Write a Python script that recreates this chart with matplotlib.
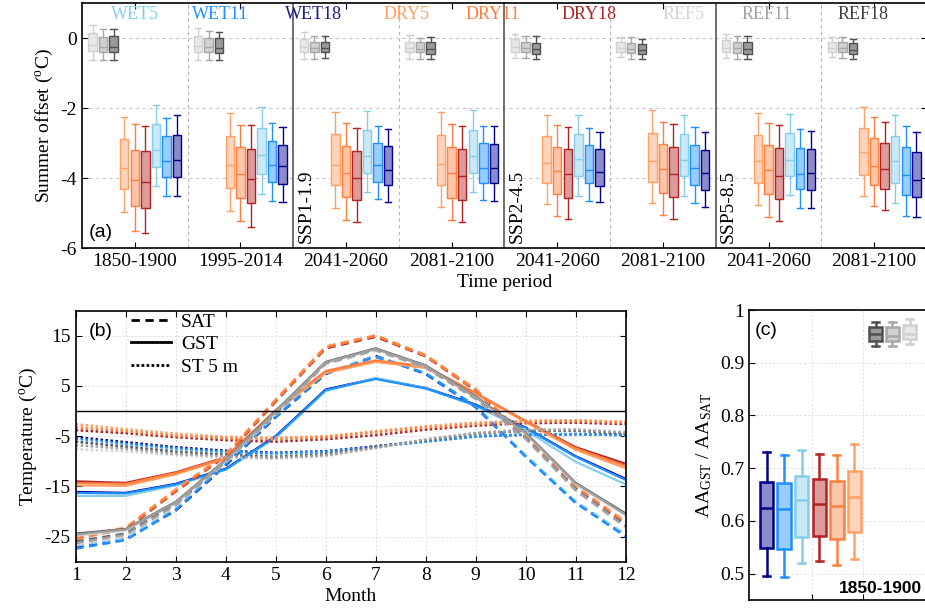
import matplotlib
matplotlib.use("Agg")
import matplotlib.pyplot as plt
from matplotlib.colors import to_rgb
from matplotlib.lines import Line2D

plt.rcParams["font.family"] = ["Liberation Serif", "DejaVu Serif"]
plt.rcParams["mathtext.fontset"] = "custom"
plt.rcParams["mathtext.rm"] = "Liberation Serif"
plt.rcParams["mathtext.it"] = "Liberation Serif:italic"
plt.rcParams["axes.unicode_minus"] = False
plt.rcParams["font.size"] = 14

# ---------------- data ----------------
runs = ["WET5", "WET11", "WET18", "DRY5", "DRY11", "DRY18", "REF5", "REF11", "REF18"]
periods = ["1850-1900", "1995-2014", "2041-2060", "2081-2100",
           "2041-2060", "2081-2100", "2041-2060", "2081-2100"]
scenarios = ["SSP1-1.9", "SSP2-4.5", "SSP5-8.5"]
months = list(range(1, 13))

# (a) summer offset (degC): (whislo, q1, median, q3, whishi) for each period
off_ref5 = [(-0.62, -0.38, -0.21, 0.14, 0.38), (-0.62, -0.40, -0.24, 0.07, 0.29),
            (-0.59, -0.40, -0.26, -0.03, 0.17), (-0.59, -0.40, -0.29, -0.10, 0.08),
            (-0.57, -0.40, -0.27, -0.03, 0.12), (-0.54, -0.40, -0.29, -0.12, 0.03),
            (-0.57, -0.40, -0.29, -0.07, 0.11), (-0.54, -0.40, -0.29, -0.12, 0.02)]
off_ref11 = [(-0.62, -0.41, -0.26, 0.03, 0.26), (-0.62, -0.41, -0.26, 0.00, 0.19),
             (-0.59, -0.41, -0.29, -0.11, 0.07), (-0.59, -0.41, -0.30, -0.12, 0.00),
             (-0.57, -0.41, -0.29, -0.12, 0.07), (-0.59, -0.43, -0.30, -0.14, 0.02),
             (-0.59, -0.43, -0.29, -0.11, 0.07), (-0.57, -0.41, -0.29, -0.12, 0.02)]
off_ref18 = [(-0.62, -0.41, -0.26, 0.05, 0.26), (-0.62, -0.43, -0.29, 0.00, 0.17),
             (-0.57, -0.41, -0.29, -0.10, 0.07), (-0.59, -0.45, -0.31, -0.12, 0.02),
             (-0.60, -0.45, -0.30, -0.14, 0.05), (-0.59, -0.46, -0.33, -0.16, -0.02),
             (-0.60, -0.46, -0.31, -0.10, 0.07), (-0.60, -0.46, -0.33, -0.14, -0.02)]
off_dry5 = [(-4.97, -4.31, -3.71, -2.89, -2.26), (-4.95, -4.29, -3.64, -2.79, -2.14),
            (-4.86, -4.20, -3.64, -2.75, -2.11), (-4.83, -4.19, -3.60, -2.76, -2.11),
            (-4.74, -4.14, -3.57, -2.80, -2.19), (-4.72, -4.10, -3.51, -2.70, -2.07),
            (-4.76, -4.14, -3.52, -2.76, -2.15), (-4.51, -3.90, -3.27, -2.56, -1.97)]
off_dry11 = [(-5.50, -4.79, -4.07, -3.19, -2.47), (-5.24, -4.57, -3.88, -3.11, -2.48),
             (-5.19, -4.54, -3.85, -3.08, -2.42), (-5.21, -4.57, -3.87, -3.11, -2.47),
             (-5.08, -4.46, -3.81, -3.10, -2.49), (-5.05, -4.43, -3.74, -3.03, -2.41),
             (-5.10, -4.46, -3.77, -3.06, -2.44), (-4.81, -4.20, -3.66, -2.86, -2.25)]
off_dry18 = [(-5.57, -4.86, -4.11, -3.24, -2.50), (-5.41, -4.71, -4.03, -3.17, -2.48),
             (-5.27, -4.64, -4.00, -3.24, -2.58), (-5.27, -4.62, -3.93, -3.16, -2.52),
             (-5.17, -4.56, -3.88, -3.17, -2.54), (-5.18, -4.54, -3.89, -3.11, -2.47),
             (-5.24, -4.59, -3.93, -3.13, -2.48), (-4.91, -4.31, -3.74, -3.00, -2.40)]
off_wet5 = [(-4.24, -3.69, -3.19, -2.46, -1.91), (-4.45, -3.88, -3.33, -2.56, -1.98),
            (-4.40, -3.86, -3.38, -2.64, -2.09), (-4.41, -3.86, -3.36, -2.62, -2.06),
            (-4.50, -3.93, -3.46, -2.74, -2.20), (-4.50, -3.95, -3.48, -2.74, -2.21),
            (-4.49, -3.94, -3.48, -2.71, -2.18), (-4.72, -4.13, -3.52, -2.79, -2.19)]
off_wet11 = [(-4.50, -3.98, -3.50, -2.81, -2.29), (-4.65, -4.12, -3.62, -2.94, -2.43),
             (-4.60, -4.10, -3.63, -3.00, -2.50), (-4.64, -4.13, -3.70, -3.00, -2.50),
             (-4.65, -4.15, -3.76, -3.06, -2.57), (-4.70, -4.19, -3.72, -3.07, -2.55),
             (-4.85, -4.31, -3.88, -3.14, -2.60), (-5.08, -4.48, -3.90, -3.11, -2.52)]
off_wet18 = [(-4.52, -3.98, -3.48, -2.76, -2.20), (-4.68, -4.17, -3.67, -3.05, -2.53),
             (-4.68, -4.19, -3.78, -3.09, -2.60), (-4.66, -4.15, -3.71, -3.03, -2.52),
             (-4.69, -4.22, -3.82, -3.16, -2.69), (-4.84, -4.34, -3.86, -3.19, -2.68),
             (-4.85, -4.34, -3.86, -3.18, -2.67), (-5.11, -4.54, -4.05, -3.27, -2.69)]

# (b) monthly temperature (degC)
wet5_sat = [-26.8, -25.3, -19.4, -10.4, -1.0, 7.6, 10.9, 7.6, 1.0, -8.8, -18.0, -24.6]
wet11_sat = [-27.4, -25.7, -19.7, -10.6, -1.1, 7.5, 10.8, 7.5, 0.9, -9.1, -18.3, -25.0]
wet18_sat = [-27.1, -25.5, -19.8, -10.8, -1.2, 7.4, 11.0, 7.4, 0.8, -9.0, -18.2, -24.8]
dry5_sat = [-25.0, -23.2, -15.6, -8.6, 2.3, 12.9, 15.1, 11.2, 4.4, -5.0, -15.0, -22.0]
dry11_sat = [-25.5, -23.4, -15.8, -8.8, 2.1, 12.7, 15.0, 11.0, 4.2, -5.2, -15.2, -22.3]
dry18_sat = [-25.2, -23.6, -16.0, -9.0, 1.9, 12.5, 14.8, 10.9, 4.1, -5.3, -15.3, -22.5]
ref5_sat = [-26.6, -24.9, -18.9, -10.2, -0.7, 9.3, 12.0, 8.6, 2.4, -5.6, -15.9, -23.2]
ref11_sat = [-26.3, -24.6, -18.7, -10.1, -0.6, 9.5, 12.2, 8.7, 2.5, -5.4, -15.7, -23.0]
ref18_sat = [-26.0, -24.4, -18.5, -10.0, -0.5, 9.6, 12.3, 8.8, 2.6, -5.3, -15.6, -22.8]

wet5_gst = [-16.9, -16.9, -14.8, -11.7, -5.3, 4.0, 6.6, 4.6, 1.0, -3.8, -10.1, -14.6]
wet11_gst = [-16.3, -16.4, -14.6, -11.6, -5.1, 4.2, 6.4, 4.5, 1.2, -3.4, -9.1, -13.7]
wet18_gst = [-16.1, -16.3, -14.5, -11.5, -5.0, 4.3, 6.5, 4.6, 1.3, -3.3, -9.0, -13.5]
dry5_gst = [-14.8, -14.9, -12.6, -9.5, -0.1, 7.6, 9.8, 8.6, 3.4, -2.2, -7.7, -11.4]
dry11_gst = [-14.3, -14.5, -12.3, -9.3, 0.2, 8.0, 10.1, 8.9, 3.6, -2.0, -7.4, -10.9]
dry18_gst = [-14.0, -14.3, -12.2, -9.2, 0.0, 7.8, 9.9, 8.7, 3.5, -2.0, -7.2, -10.5]
ref5_gst = [-24.8, -23.8, -18.4, -9.9, -0.2, 9.6, 12.3, 8.9, 2.7, -4.5, -14.6, -20.8]
ref11_gst = [-24.6, -23.6, -18.2, -9.8, -0.1, 9.7, 12.4, 9.0, 2.8, -4.4, -14.4, -20.6]
ref18_gst = [-24.4, -23.5, -18.1, -9.7, 0.0, 9.8, 12.5, 9.1, 2.9, -4.3, -14.3, -20.4]

wet5_st = [-6.1, -7.0, -7.8, -8.4, -8.6, -8.2, -7.2, -6.0, -5.0, -4.6, -4.5, -4.9]
wet11_st = [-5.5, -6.5, -7.4, -8.1, -8.4, -8.1, -7.1, -6.1, -5.1, -4.7, -4.6, -4.8]
wet18_st = [-5.2, -6.2, -7.2, -7.9, -8.3, -8.0, -7.0, -6.0, -5.0, -4.7, -4.6, -4.7]
dry5_st = [-2.6, -3.6, -4.5, -5.1, -5.3, -5.0, -4.0, -3.0, -2.3, -1.9, -1.8, -2.1]
dry11_st = [-3.2, -4.0, -4.9, -5.4, -5.6, -5.2, -4.2, -3.3, -2.6, -2.1, -2.0, -2.3]
dry18_st = [-3.8, -4.4, -5.2, -5.8, -6.1, -5.6, -4.8, -3.7, -2.9, -2.4, -2.3, -2.6]
ref5_st = [-7.6, -8.0, -8.8, -9.3, -9.5, -9.0, -7.4, -5.6, -4.3, -3.6, -3.6, -4.1]
ref11_st = [-6.8, -7.5, -8.5, -9.0, -9.3, -8.8, -7.3, -5.7, -4.4, -3.8, -3.7, -4.3]
ref18_st = [-6.1, -7.1, -8.1, -8.7, -9.1, -8.6, -7.1, -5.8, -4.5, -3.9, -3.9, -4.5]

# (c) AA_GST / AA_SAT, 1850-1900: (whislo, q1, median, q3, whishi)
aa_wet18 = (0.496, 0.549, 0.624, 0.674, 0.730)
aa_wet11 = (0.494, 0.547, 0.622, 0.671, 0.725)
aa_wet5 = (0.521, 0.570, 0.640, 0.685, 0.735)
aa_dry18 = (0.524, 0.571, 0.633, 0.680, 0.727)
aa_dry11 = (0.517, 0.566, 0.628, 0.676, 0.725)
aa_dry5 = (0.528, 0.579, 0.645, 0.694, 0.746)
aa_ref18 = (0.932, 0.942, 0.955, 0.968, 0.978)
aa_ref11 = (0.932, 0.942, 0.950, 0.967, 0.977)
aa_ref5 = (0.936, 0.945, 0.955, 0.972, 0.983)

# ---------------- styles ----------------
edge = {"WET5": "#87CEEB", "WET11": "#1E90FF", "WET18": "#00008B",
        "DRY5": "#FFA066", "DRY11": "#FF7F3F", "DRY18": "#B22222",
        "REF5": "#D0D0D0", "REF11": "#A8A8A8", "REF18": "#505050"}
label_col = dict(edge, WET18="#1C1C8C", REF5="#D3D3D3", REF11="#A0A0A0", REF18="#404040")


def face(c, a=0.45):
    r, g, b = to_rgb(c)
    return (1 - a * (1 - r), 1 - a * (1 - g), 1 - a * (1 - b))


face_col = {k: face(v) for k, v in edge.items()}
face_col["REF5"] = "#E8E8E8"
face_col["REF11"] = "#D0D0D0"
face_col["REF18"] = "#9A9A9A"


def draw_boxes(ax, stats, pos, run, width, lw, capw):
    bs = [dict(whislo=s[0], q1=s[1], med=s[2], q3=s[3], whishi=s[4], fliers=[]) for s in stats]
    c = edge[run]
    ax.bxp(bs, positions=pos, widths=width, capwidths=capw, patch_artist=True,
           showfliers=False, manage_ticks=False,
           boxprops=dict(facecolor=face_col[run], edgecolor=c, linewidth=lw),
           whiskerprops=dict(color=c, linewidth=lw), capprops=dict(color=c, linewidth=lw),
           medianprops=dict(color=c, linewidth=lw))


fig = plt.figure(figsize=(9.25, 6.15), dpi=100)

# ---------------- panel (a) ----------------
axa = fig.add_axes([0.0886, 0.5967, 0.9135, 0.3984])
xa = list(range(1, len(periods) + 1))
off_a = {"REF5": -0.4, "REF11": -0.3, "REF18": -0.2, "DRY5": -0.1, "DRY11": 0.0,
         "DRY18": 0.1, "WET5": 0.2, "WET11": 0.3, "WET18": 0.4}
stats_a = {"REF5": off_ref5, "REF11": off_ref11, "REF18": off_ref18,
           "DRY5": off_dry5, "DRY11": off_dry11, "DRY18": off_dry18,
           "WET5": off_wet5, "WET11": off_wet11, "WET18": off_wet18}
for run, st in stats_a.items():
    draw_boxes(axa, st, [x + off_a[run] for x in xa], run, 0.08, 1.0, 0.06)

for y in [0, -2, -4]:
    axa.axhline(y, color="#C8C8C8", lw=0.8, ls=(0, (3, 3)), zorder=0)
for x in [1.5, 3.5, 5.5, 7.5]:
    axa.axvline(x, color="#B4B4B4", lw=0.8, ls=(0, (3, 3)), zorder=0)
for x in [2.5, 4.5, 6.5]:
    axa.axvline(x, color="#555555", lw=1.2, zorder=0)

axa.set_xlim(0.5, 8.5)
axa.set_ylim(-6, 1)
axa.set_xticks(xa)
axa.set_xticklabels(periods)
axa.set_yticks([0, -2, -4, -6])
axa.set_yticklabels(["0", "-2", "-4", "-6"])
axa.tick_params(direction="in", top=True, right=True, length=4)
axa.set_xlabel("Time period", labelpad=3)
axa.set_ylabel(r"Summer offset ($^{\rm o}$C)")

lab_x = [135, 220, 314, 407, 493, 589, 684, 767, 863]
for run, px in zip(runs, lab_x):
    axa.text((px - 82) / 845, 0.955, run, color=label_col[run], ha="center", va="center",
             transform=axa.transAxes, fontsize=13)
for sx, s in zip([2.5, 4.5, 6.5], scenarios):
    axa.text(sx + 0.04, -5.85, s, rotation=90, ha="left", va="bottom", fontsize=14)
axa.text(0.008, 0.03, "(a)", transform=axa.transAxes, family="Liberation Sans",
         fontsize=14, ha="left", va="bottom")

# ---------------- panel (b) ----------------
axb = fig.add_axes([0.0818, 0.0867, 0.5946, 0.4081])
series_b = [
    ("WET18", wet18_st, wet18_sat, wet18_gst), ("WET5", wet5_st, wet5_sat, wet5_gst),
    ("WET11", wet11_st, wet11_sat, wet11_gst), ("DRY18", dry18_st, dry18_sat, dry18_gst),
    ("DRY5", dry5_st, dry5_sat, dry5_gst), ("DRY11", dry11_st, dry11_sat, dry11_gst),
    ("REF5", ref5_st, ref5_sat, ref5_gst), ("REF18", ref18_st, ref18_sat, ref18_gst),
    ("REF11", ref11_st, ref11_sat, ref11_gst)]
line_col = dict(edge, REF5="#D3D3D3", REF11="#A0A0A0", REF18="#5A5A5A")
for run, st, sat, gst in series_b:
    c = line_col[run]
    axb.plot(months, st, color=c, lw=1.8, ls=(0, (1, 1)))
    axb.plot(months, sat, color=c, lw=1.8, ls=(0, (3.2, 2.2)))
    axb.plot(months, gst, color=c, lw=1.6)
axb.axhline(0, color="black", lw=1.0)
axb.set_xlim(1, 12)
axb.set_ylim(-30, 20)
axb.set_xticks(months)
axb.set_yticks([15, 5, -5, -15, -25])
axb.set_yticklabels(["15", "5", "-5", "-15", "-25"])
axb.grid(True, color="#DDDDDD", lw=0.7, ls=(0, (2, 2)))
axb.set_axisbelow(True)
axb.tick_params(direction="in", top=True, right=True, length=4)
axb.set_xlabel("Month", labelpad=3)
axb.set_ylabel(r"Temperature ($^{\rm o}$C)")
handles = [Line2D([], [], color="black", lw=2, ls=(0, (3, 2))),
           Line2D([], [], color="black", lw=2),
           Line2D([], [], color="black", lw=2, ls=(0, (1, 0.8)))]
axb.legend(handles, ["SAT", "GST", "ST 5 m"], loc="upper left", frameon=False,
           bbox_to_anchor=(0.1, 0.99), borderpad=0, borderaxespad=0, handlelength=2.1,
           handletextpad=0.5, labelspacing=0.25, fontsize=14)
axb.text(0.024, 0.95, "(b)", transform=axb.transAxes, family="Liberation Sans",
         fontsize=14, ha="left", va="top")

# ---------------- panel (c) ----------------
axc = fig.add_axes([0.8097, 0.0244, 0.1957, 0.4715])
stats_c = [("WET18", aa_wet18, 1), ("WET11", aa_wet11, 2), ("WET5", aa_wet5, 3),
           ("DRY18", aa_dry18, 4), ("DRY11", aa_dry11, 5), ("DRY5", aa_dry5, 6),
           ("REF18", aa_ref18, 7.2), ("REF11", aa_ref11, 8.15), ("REF5", aa_ref5, 9.15)]
for run, st, p in stats_c:
    draw_boxes(axc, [st], [p], run, 0.76, 1.8, 0.4)
axc.set_xlim(0, 10.3)
axc.set_ylim(0.45, 1.0)
axc.set_yticks([0.5, 0.6, 0.7, 0.8, 0.9, 1.0])
axc.set_yticklabels(["0.5", "0.6", "0.7", "0.8", "0.9", "1"])
axc.set_xticks([3.58, 6.48])
axc.set_xticklabels([])
axc.grid(True, color="#DDDDDD", lw=0.7, ls=(0, (2, 2)))
axc.set_axisbelow(True)
axc.tick_params(direction="in", length=4)
axc.set_ylabel(r"AA$_{\rm GST}$ / AA$_{\rm SAT}$")
axc.text(0.033, 0.96, "(c)", transform=axc.transAxes, family="Liberation Sans",
         fontsize=14, ha="left", va="top")
axc.text(0.957, 0.015, "1850-1900", transform=axc.transAxes, family="Liberation Sans",
         fontweight="bold", fontsize=12.5, ha="right", va="bottom")

for ax in (axa, axb, axc):
    for s in ax.spines.values():
        s.set_linewidth(1.2)

fig.savefig("out.png", dpi=100)
